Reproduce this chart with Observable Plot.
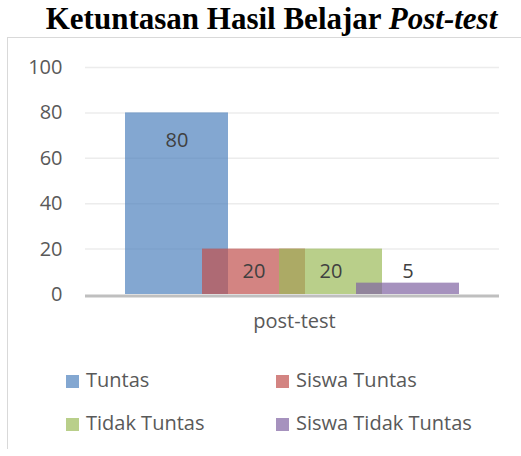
<!DOCTYPE html>
<html>
<head>
<meta charset="utf-8">
<script src="https://cdn.jsdelivr.net/npm/d3@7"></script>
<script src="https://cdn.jsdelivr.net/npm/@observablehq/plot@0.6"></script>
<style>
  html, body { margin: 0; padding: 0; background: #fff; }
  #wrap { position: relative; width: 521px; height: 456px; overflow: hidden; }
  #title { position: absolute; left: 11px; top: 2px; width: 521px; text-align: center;
    font-family: "Liberation Serif", "Times New Roman", serif; font-weight: bold; font-size: 31px; line-height: 34px; color: #000; white-space: nowrap; }
  #box { position: absolute; left: 7px; top: 37px; width: 530px; height: 411px;
    border-left: 1.5px solid #d9d9d9; border-top: 1.5px solid #d9d9d9; }
  #chart { position: absolute; left: 0; top: 37px; }
  .leg { position: absolute; font-family: "Open Sans", sans-serif; font-size: 20px; color: #595959; white-space: nowrap; line-height: 24px; }
  .sw { display: inline-block; width: 13px; height: 13px; margin-right: 7px; vertical-align: -1px; }
</style>
</head>
<body>
<div id="wrap">
  <div id="title">Ketuntasan Hasil Belajar <i>Post-test</i></div>
  <div id="box"></div>
  <div id="chart"></div>
</div>
<script>
const category = "post-test";
const series = ["Tuntas", "Siswa Tuntas", "Tidak Tuntas", "Siswa Tidak Tuntas"];
const values = [80, 20, 20, 5];
const colors = ["#4f81bd", "#c0504d", "#9bbb59", "#8064a2"];
const yTicks = [0, 20, 40, 60, 80, 100];

const data = series.map((s, i) => ({series: s, value: values[i]}));
const font = "Open Sans, sans-serif";

const plot = Plot.plot({
  width: 521,
  height: 310,
  marginLeft: 85,
  marginRight: 22,
  marginTop: 30,
  marginBottom: 53,
  style: {fontFamily: font, fontSize: "20px", color: "#595959", background: "transparent", overflow: "visible"},
  x: {domain: series, paddingInner: 0, paddingOuter: 0.675, axis: null},
  y: {domain: [0, 100], ticks: yTicks, tickSize: 0, tickPadding: 23, label: null},
  color: {domain: series, range: colors},
  marks: [
    Plot.ruleY(yTicks.filter(t => t > 0), {stroke: "#ececec", strokeWidth: 1.5}),
    Plot.barY(data, {x: "series", y: "value", fill: "series", fillOpacity: 0.7, insetLeft: -13, insetRight: -13}),
    Plot.ruleY([0], {stroke: "#bfbfbf", strokeWidth: 3, dy: 1.5}),
    Plot.text(data.filter(d => d.value >= 50), {x: "series", y: "value", text: d => String(d.value), dy: 28, fill: "#404040", fontSize: 20}),
    Plot.text(data.filter(d => d.value >= 10 && d.value < 50), {x: "series", y: "value", text: d => String(d.value), dy: 22, fill: "#404040", fontSize: 20}),
    Plot.text(data.filter(d => d.value < 10), {x: "series", y: "value", text: d => String(d.value), dy: -12, fill: "#404040", fontSize: 20}),
    Plot.text([category], {frameAnchor: "bottom", dy: 33, fill: "#595959", fontSize: 20, dx: 2})
  ]
});
document.getElementById("chart").appendChild(plot);

// legend 2x2
const wrap = document.getElementById("wrap");
const pos = [[66, 368], [276, 368], [66, 411], [276, 411]];
series.forEach((s, i) => {
  const el = document.createElement("div");
  el.className = "leg";
  el.style.left = pos[i][0] + "px";
  el.style.top = pos[i][1] + "px";
  const sw = document.createElement("span");
  sw.className = "sw";
  sw.style.background = colors[i];
  sw.style.opacity = 0.7;
  el.appendChild(sw);
  el.appendChild(document.createTextNode(s));
  wrap.appendChild(el);
});
</script>
</body>
</html>
